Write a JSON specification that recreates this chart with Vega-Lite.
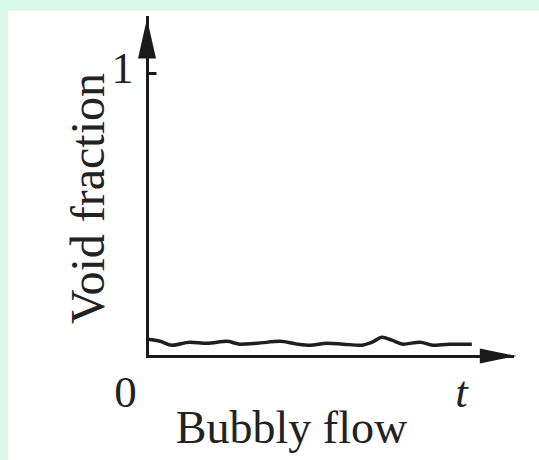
{
  "$schema": "https://vega.github.io/schema/vega-lite/v6.json",
  "width": 365,
  "height": 339,
  "autosize": {"type": "none"},
  "padding": {"left": 147, "top": 17, "right": 27, "bottom": 104},
  "background": "#dbf8ec",
  "config": {"view": {"stroke": null}},
  "data": {
    "values": [
      {"t": 0.003, "v": 0.059},
      {"t": 0.043, "v": 0.052},
      {"t": 0.082, "v": 0.038},
      {"t": 0.141, "v": 0.049},
      {"t": 0.197, "v": 0.045},
      {"t": 0.263, "v": 0.052},
      {"t": 0.306, "v": 0.042},
      {"t": 0.362, "v": 0.045},
      {"t": 0.437, "v": 0.052},
      {"t": 0.493, "v": 0.042},
      {"t": 0.536, "v": 0.038},
      {"t": 0.592, "v": 0.045},
      {"t": 0.644, "v": 0.042},
      {"t": 0.700, "v": 0.038},
      {"t": 0.740, "v": 0.049},
      {"t": 0.773, "v": 0.066},
      {"t": 0.805, "v": 0.056},
      {"t": 0.842, "v": 0.042},
      {"t": 0.897, "v": 0.049},
      {"t": 0.940, "v": 0.038},
      {"t": 0.996, "v": 0.042},
      {"t": 1.068, "v": 0.042}
    ]
  },
  "layer": [
    {
      "data": {"values": [{}]},
      "mark": {"type": "rect", "fill": "white", "clip": false},
      "encoding": {
        "x": {"datum": -0.457, "type": "quantitative", "scale": {"domain": [0, 1.2]}},
        "x2": {"datum": 1.6},
        "y": {"datum": 1.222, "type": "quantitative", "scale": {"domain": [0, 1.18]}},
        "y2": {"datum": -0.7}
      }
    },
    {
      "mark": {"type": "line", "color": "#1e1e1e", "strokeWidth": 3.5, "interpolate": "monotone", "clip": false},
      "encoding": {
        "x": {
          "field": "t", "type": "quantitative",
          "scale": {"domain": [0, 1.2]},
          "axis": {
            "zindex": 1,
            "values": [0, 1.032],
            "labelExpr": "datum.value == 0 ? '0' : 't'",
            "ticks": false,
            "grid": false,
            "domainColor": "#1a1a1a",
            "domainWidth": 3,
            "domainCap": "square",
            "labelFlush": false,
            "labelOverlap": false,
            "labelBound": false,
            "labelFont": "Liberation Serif",
            "labelFontSize": 45,
            "labelColor": "#222222",
            "labelBaseline": "alphabetic",
            "labelPadding": 50,
            "labelOffset": {"condition": {"test": "datum.value == 0", "value": -22}, "value": 0},
            "labelFontStyle": {"condition": {"test": "datum.value > 0", "value": "italic"}, "value": "normal"},
            "title": "Bubbly flow",
            "titleFont": "Liberation Serif",
            "titleFontSize": 46,
            "titleFontWeight": "normal",
            "titleColor": "#222222",
            "titleX": 144,
            "titleY": 86,
            "titleAlign": "center",
            "titleBaseline": "alphabetic"
          }
        },
        "y": {
          "field": "v", "type": "quantitative",
          "scale": {"domain": [0, 1.18]},
          "axis": {
            "zindex": 1,
            "values": [1],
            "labelExpr": "'1'",
            "grid": false,
            "ticks": true,
            "tickSize": -9,
            "tickWidth": 3,
            "tickColor": "#1a1a1a",
            "domainColor": "#1a1a1a",
            "domainWidth": 3,
            "domainCap": "square",
            "labelFont": "Liberation Serif",
            "labelFontSize": 44,
            "labelColor": "#222222",
            "labelPadding": 23,
            "labelOffset": -4,
            "labelBound": false,
            "labelFlush": false,
            "title": "Void fraction",
            "titleFont": "Liberation Serif",
            "titleFontSize": 48,
            "titleFontWeight": "normal",
            "titleColor": "#222222",
            "titleX": -44,
            "titleY": 181,
            "titleAngle": -90,
            "titleAlign": "center",
            "titleBaseline": "alphabetic"
          }
        }
      }
    },
    {
      "data": {"values": [{}]},
      "mark": {"type": "point", "shape": "M0,-1L0.45,1L-0.45,1Z", "filled": true, "fill": "#1a1a1a", "stroke": null, "opacity": 1, "size": 1600, "clip": false},
      "encoding": {
        "x": {"datum": 0, "type": "quantitative"},
        "y": {"datum": 1.124, "type": "quantitative"}
      }
    },
    {
      "data": {"values": [{}]},
      "mark": {"type": "point", "shape": "M1,0L-1,-0.4L-1,0.4Z", "filled": true, "fill": "#1a1a1a", "stroke": null, "opacity": 1, "size": 1369, "clip": false},
      "encoding": {
        "x": {"datum": 1.155, "type": "quantitative"},
        "y": {"datum": 0, "type": "quantitative"}
      }
    }
  ]
}
